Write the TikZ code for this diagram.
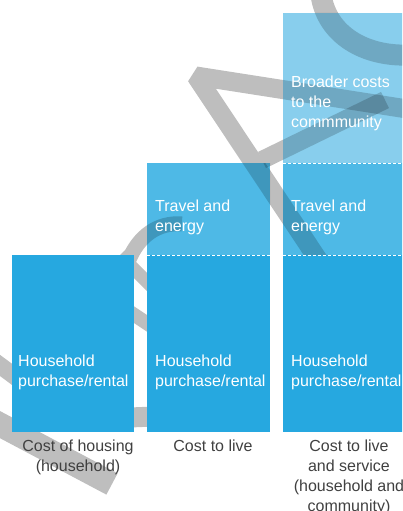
\documentclass[tikz,border=0pt]{standalone}
\usepackage{fontspec}
\setmainfont{Liberation Sans}
\definecolor{housecol}{RGB}{38,168,224}
\definecolor{travelcol}{RGB}{78,185,230}
\definecolor{broadcol}{RGB}{136,206,237}
\definecolor{wmgray}{RGB}{190,190,190}
\definecolor{labelcol}{RGB}{64,64,64}
% grey watermark strokes, drawn once in grey and once as a shade over the light sections
\newcommand\drawwatermark[1]{%
  \draw[wm,#1,line width=19pt] (420,111) -- (196,76) -- (345,300);
  \draw[wm,#1,line width=18pt] (262,160) -- (385,100);
  \draw[wm,#1,line width=21pt] (321,-5) .. controls (327,35) and (365,57) .. (410,55);
  \draw[wm,#1,line width=15pt] (182,224) .. controls (158,222) and (138,236) .. (128,262);
  \draw[wm,#1,line width=13pt] (120,255) -- (162,297);
  \draw[wm,#1,line width=14pt] (118,304) -- (166,336);
  \draw[wm,#1,line width=20pt] (118,418) -- (166,416);
  \draw[wm,#1,line width=17pt] (-10,358) -- (25,384);
  \draw[wm,#1,line width=24pt] (-20,414) -- (112,484);
}
\begin{document}
\begin{tikzpicture}[x=1pt,y=-1pt,
  wm/.style={line cap=butt, line join=bevel},
  bartext/.style={anchor=base west, inner sep=0pt, align=left, text=white,
    font=\fontsize{16}{20}\selectfont},
  barcaption/.style={anchor=base, inner sep=0pt, align=center, text=labelcol,
    font=\fontsize{16}{20}\selectfont},
  divider/.style={white, line width=0.9pt, dash pattern=on 3pt off 2pt}]
\useasboundingbox (0,0) rectangle (402,511);
\clip (0,0) rectangle (402,511);

% watermark underneath everything
\drawwatermark{draw=wmgray}

% bars
\fill[housecol] (12,255) rectangle (134,432);
\fill[housecol] (147,255) rectangle (270,432);
\fill[travelcol] (147,163) rectangle (270,255);
\fill[housecol] (283,255) rectangle (406,432);
\fill[travelcol] (283,163) rectangle (406,255);
\fill[broadcol] (283,13) rectangle (406,163);

% watermark showing through the lighter sections
\begin{scope}
  \clip (147,163) rectangle (270,255) (283,13) rectangle (406,255);
  \drawwatermark{draw=black, draw opacity=0.18}
\end{scope}

% section dividers
\draw[divider] (147,255) -- (270,255);
\draw[divider] (283,255) -- (406,255);
\draw[divider] (283,163) -- (406,163);

% section texts (anchored at the baseline of the last line)
\node[bartext] (hh1) at (18,386) {Household\\purchase/rental};
\node[bartext] (hh2) at (155,386) {Household\\purchase/rental};
\node[bartext] (hh3) at (291,386) {Household\\purchase/rental};
\node[bartext] (tr2) at (155,231) {Travel and\\energy};
\node[bartext] (tr3) at (291,231) {Travel and\\energy};
\node[bartext] (br3) at (291,127) {Broader costs\\to the\\commmunity};

% captions under the bars
\node[barcaption] (cap1) at (78,471) {Cost of housing\\(household)};
\node[barcaption] (cap2) at (213,451) {Cost to live};
\node[barcaption] (cap3) at (349,511) {Cost to live\\and service\\(household and\\community)};
\end{tikzpicture}
\end{document}
